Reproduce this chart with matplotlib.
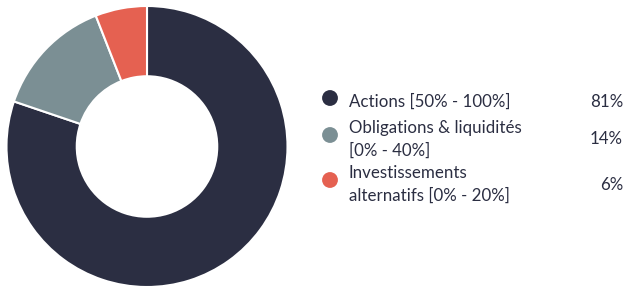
import matplotlib
matplotlib.use("Agg")
import matplotlib.pyplot as plt

labels = ["Actions [50% - 100%]", "Obligations & liquidités\n[0% - 40%]", "Investissements\nalternatifs [0% - 20%]"]
values = [81, 14, 6]
value_labels = ["81%", "14%", "6%"]
colors = ["#2b2e42", "#7b8f94", "#e56151"]

W, H = 625, 291
fig = plt.figure(figsize=(W / 100, H / 100), dpi=100)
plt.rcParams['font.family'] = ['Lato', 'DejaVu Sans']

# donut axes (pixel geometry)
cx, cy, R = 147, 146.5, 140.5
ax = fig.add_axes([(cx - R) / W, (H - cy - R) / H, 2 * R / W, 2 * R / H])
ax.pie(values, colors=colors, startangle=90, counterclock=False, radius=1,
       wedgeprops=dict(width=0.5, edgecolor="white", linewidth=1.5))
ax.set_xlim(-1, 1)
ax.set_ylim(-1, 1)
ax.set_aspect("auto")
ax.axis("off")

# overlay for legend
ov = fig.add_axes([0, 0, 1, 1])
ov.set_xlim(0, W)
ov.set_ylim(H, 0)
ov.axis("off")

dot_y = [98, 135, 180]
text_y = [102, 139, 184]
val_y = [102, 139, 185]
for i in range(len(values)):
    ov.scatter([330], [dot_y[i]], s=130, color=colors[i], edgecolor="none")
    ov.text(349, text_y[i], labels[i], ha="left", va="center", fontsize=12.2,
            color="#2b2e42", linespacing=1.5)
    ov.text(623, val_y[i], value_labels[i], ha="right", va="center", fontsize=12.2,
            color="#2b2e42")

fig.savefig("out.png", dpi=100)
